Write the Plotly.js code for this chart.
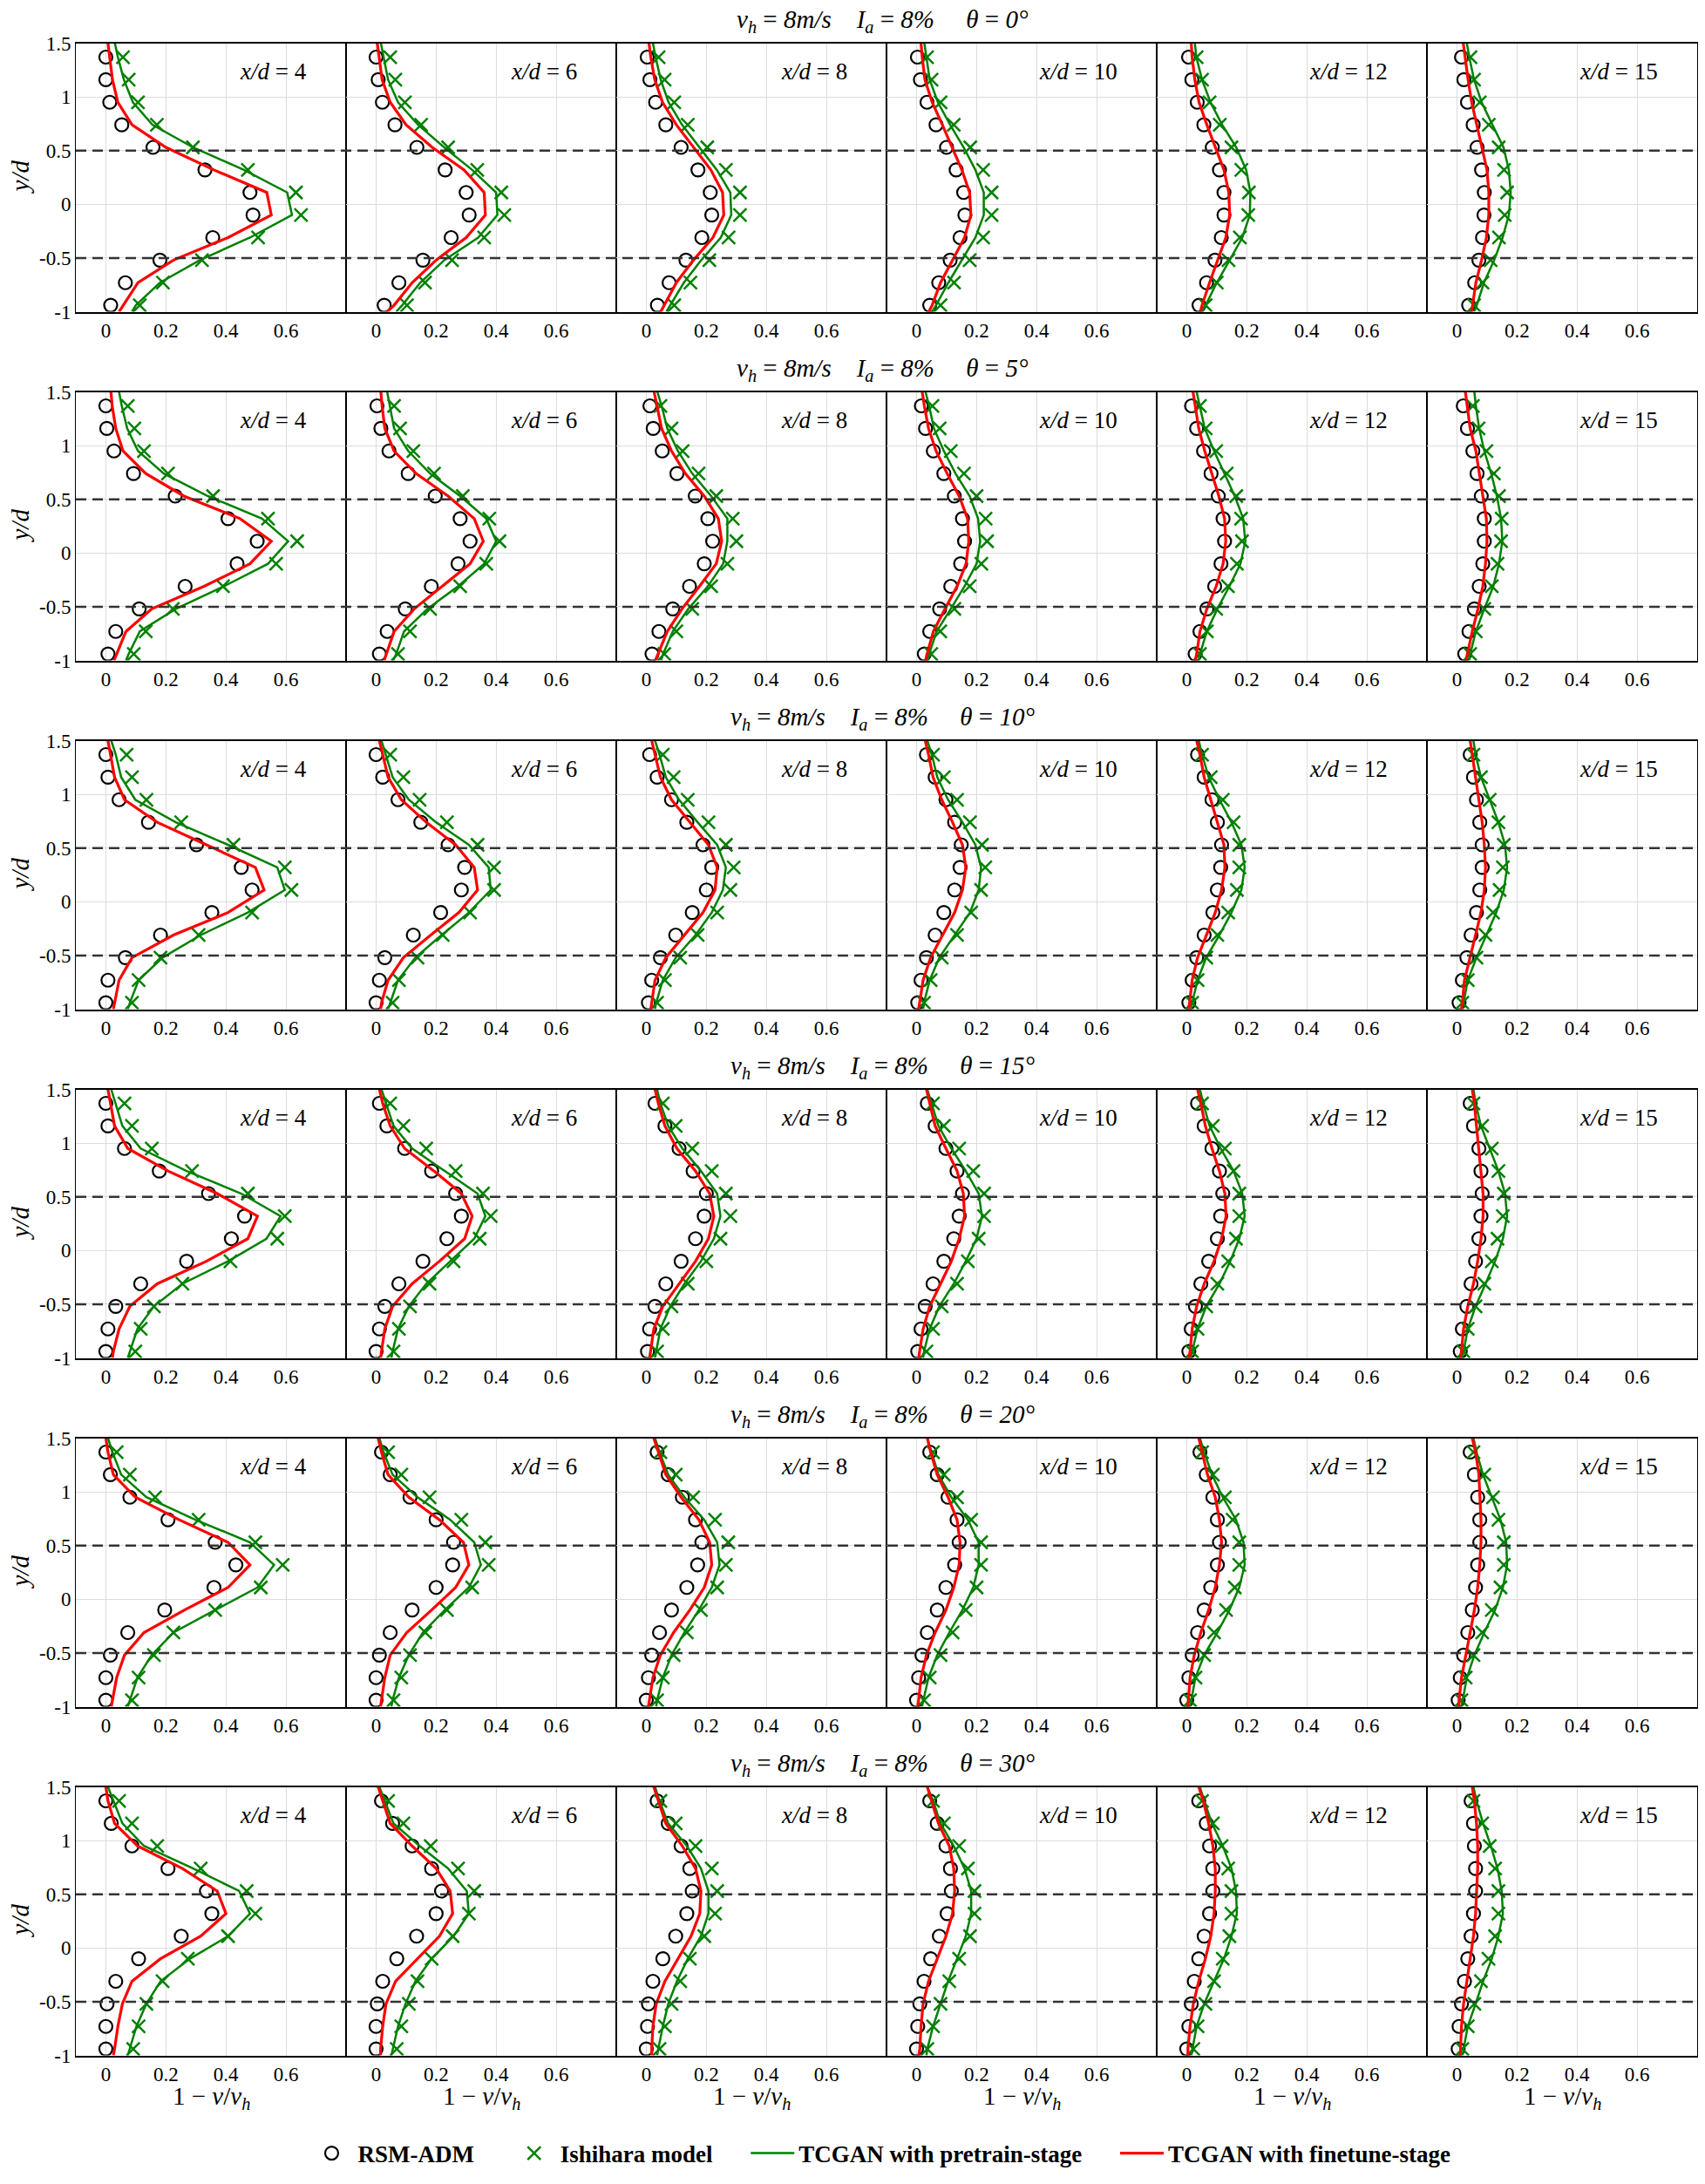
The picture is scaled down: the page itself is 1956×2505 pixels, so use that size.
<!DOCTYPE html>
<html>
<head>
<meta charset="utf-8">
<script src="https://cdn.plot.ly/plotly-3.0.1.min.js"></script>
<style>html,body{margin:0;padding:0;background:#fff;}#chart{width:1956px;height:2505px;}</style>
</head>
<body>
<div id="chart"></div>
<script>
// ---------------- DATA ----------------
const thetas = [0, 5, 10, 15, 20, 30];
const xdValues = [4, 6, 8, 10, 12, 15];
const markerY = [1.37, 1.16, 0.95, 0.74, 0.53, 0.32, 0.11, -0.10, -0.31, -0.52, -0.73, -0.94];
const lineY = [1.5, 1.37, 1.16, 0.95, 0.74, 0.53, 0.32, 0.11, -0.10, -0.31, -0.52, -0.73, -0.94, -1.0];
const xTickVals = [0, 0.2, 0.4, 0.6];
const xTickText = ['0', '0.2', '0.4', '0.6'];
const yTickVals = [-1, -0.5, 0, 0.5, 1, 1.5];
const yTickText = ['-1', '-0.5', '0', '0.5', '1', '1.5'];
const legendNames = ['RSM-ADM', 'Ishihara model', 'TCGAN with pretrain-stage', 'TCGAN with finetune-stage'];

// theta = 0
const rsm_t0 = [
 [0.0, 0.0, 0.013, 0.053, 0.157, 0.33, 0.48, 0.49, 0.356, 0.18, 0.065, 0.016],
 [0.0, 0.007, 0.021, 0.063, 0.136, 0.23, 0.3, 0.31, 0.25, 0.156, 0.076, 0.027],
 [0.003, 0.012, 0.031, 0.065, 0.116, 0.172, 0.213, 0.218, 0.185, 0.132, 0.076, 0.037],
 [0.003, 0.013, 0.035, 0.065, 0.1, 0.132, 0.157, 0.161, 0.145, 0.112, 0.074, 0.044],
 [0.006, 0.017, 0.035, 0.057, 0.085, 0.109, 0.124, 0.124, 0.115, 0.094, 0.066, 0.041],
 [0.015, 0.023, 0.035, 0.054, 0.067, 0.082, 0.091, 0.09, 0.085, 0.073, 0.059, 0.039]];
const ish_t0 = [
 [0.057, 0.076, 0.107, 0.17, 0.29, 0.473, 0.633, 0.65, 0.507, 0.32, 0.19, 0.113],
 [0.047, 0.064, 0.096, 0.15, 0.24, 0.337, 0.417, 0.427, 0.36, 0.253, 0.163, 0.103],
 [0.041, 0.061, 0.093, 0.138, 0.203, 0.265, 0.312, 0.312, 0.274, 0.21, 0.147, 0.093],
 [0.035, 0.05, 0.08, 0.124, 0.179, 0.222, 0.25, 0.25, 0.222, 0.177, 0.125, 0.08],
 [0.033, 0.051, 0.076, 0.11, 0.149, 0.182, 0.207, 0.205, 0.177, 0.139, 0.1, 0.063],
 [0.045, 0.057, 0.076, 0.106, 0.139, 0.157, 0.167, 0.159, 0.14, 0.112, 0.085, 0.057]];
const pre_t0 = [
 [0.03, 0.04, 0.06, 0.09, 0.155, 0.29, 0.46, 0.604, 0.62, 0.48, 0.313, 0.18, 0.1, 0.087],
 [0.016, 0.025, 0.04, 0.073, 0.14, 0.227, 0.32, 0.4, 0.404, 0.34, 0.227, 0.147, 0.087, 0.067],
 [0.022, 0.031, 0.048, 0.074, 0.119, 0.177, 0.235, 0.28, 0.283, 0.248, 0.183, 0.125, 0.08, 0.067],
 [0.026, 0.033, 0.044, 0.071, 0.112, 0.157, 0.196, 0.224, 0.224, 0.196, 0.15, 0.106, 0.065, 0.052],
 [0.027, 0.032, 0.051, 0.079, 0.118, 0.165, 0.198, 0.212, 0.21, 0.185, 0.143, 0.1, 0.063, 0.051],
 [0.033, 0.041, 0.057, 0.082, 0.118, 0.155, 0.173, 0.179, 0.173, 0.152, 0.124, 0.09, 0.066, 0.057]];
const fin_t0 = [
 [0.007, 0.012, 0.022, 0.04, 0.087, 0.2, 0.36, 0.536, 0.551, 0.407, 0.225, 0.107, 0.058, 0.044],
 [0.004, 0.01, 0.02, 0.047, 0.1, 0.187, 0.293, 0.36, 0.364, 0.3, 0.2, 0.12, 0.06, 0.037],
 [0.009, 0.015, 0.028, 0.054, 0.1, 0.157, 0.215, 0.254, 0.258, 0.222, 0.157, 0.1, 0.06, 0.048],
 [0.015, 0.019, 0.028, 0.052, 0.086, 0.119, 0.151, 0.177, 0.181, 0.16, 0.119, 0.08, 0.052, 0.041],
 [0.015, 0.018, 0.027, 0.041, 0.067, 0.096, 0.124, 0.14, 0.143, 0.13, 0.102, 0.076, 0.051, 0.045],
 [0.021, 0.027, 0.037, 0.049, 0.066, 0.085, 0.1, 0.106, 0.106, 0.098, 0.082, 0.063, 0.051, 0.049]];

// theta = 5
const rsm_t5 = [
 [0.0, 0.003, 0.027, 0.092, 0.231, 0.407, 0.504, 0.437, 0.264, 0.111, 0.033, 0.007],
 [0.003, 0.016, 0.043, 0.107, 0.197, 0.28, 0.313, 0.273, 0.184, 0.097, 0.037, 0.011],
 [0.012, 0.023, 0.053, 0.102, 0.163, 0.205, 0.221, 0.193, 0.144, 0.088, 0.042, 0.019],
 [0.016, 0.03, 0.056, 0.091, 0.126, 0.153, 0.16, 0.147, 0.114, 0.077, 0.044, 0.026],
 [0.016, 0.033, 0.056, 0.081, 0.105, 0.121, 0.126, 0.114, 0.093, 0.067, 0.044, 0.028],
 [0.021, 0.035, 0.053, 0.067, 0.081, 0.091, 0.091, 0.086, 0.074, 0.058, 0.04, 0.026]];
const ish_t5 = [
 [0.073, 0.095, 0.127, 0.207, 0.357, 0.54, 0.637, 0.567, 0.39, 0.223, 0.133, 0.093],
 [0.06, 0.08, 0.124, 0.193, 0.289, 0.377, 0.411, 0.367, 0.28, 0.18, 0.113, 0.073],
 [0.047, 0.084, 0.121, 0.174, 0.233, 0.288, 0.3, 0.27, 0.216, 0.153, 0.1, 0.06],
 [0.053, 0.077, 0.114, 0.158, 0.2, 0.23, 0.235, 0.216, 0.177, 0.126, 0.079, 0.049],
 [0.044, 0.063, 0.098, 0.133, 0.165, 0.181, 0.184, 0.167, 0.137, 0.098, 0.067, 0.044],
 [0.053, 0.072, 0.098, 0.123, 0.14, 0.149, 0.147, 0.135, 0.116, 0.091, 0.063, 0.044]];
const pre_t5 = [
 [0.044, 0.053, 0.071, 0.107, 0.193, 0.34, 0.52, 0.607, 0.54, 0.393, 0.233, 0.113, 0.076, 0.067],
 [0.037, 0.045, 0.06, 0.107, 0.18, 0.28, 0.367, 0.4, 0.36, 0.273, 0.171, 0.093, 0.067, 0.057],
 [0.037, 0.051, 0.07, 0.105, 0.153, 0.216, 0.27, 0.27, 0.256, 0.205, 0.14, 0.088, 0.056, 0.049],
 [0.03, 0.042, 0.058, 0.091, 0.13, 0.177, 0.205, 0.212, 0.2, 0.16, 0.114, 0.067, 0.042, 0.037],
 [0.033, 0.044, 0.06, 0.091, 0.126, 0.16, 0.188, 0.195, 0.179, 0.142, 0.102, 0.067, 0.044, 0.04],
 [0.058, 0.063, 0.074, 0.091, 0.114, 0.133, 0.147, 0.151, 0.14, 0.121, 0.091, 0.063, 0.044, 0.04]];
const fin_t5 = [
 [0.017, 0.021, 0.033, 0.057, 0.133, 0.26, 0.447, 0.551, 0.48, 0.327, 0.153, 0.067, 0.036, 0.027],
 [0.016, 0.02, 0.029, 0.06, 0.133, 0.24, 0.327, 0.357, 0.313, 0.22, 0.127, 0.06, 0.033, 0.027],
 [0.026, 0.035, 0.051, 0.084, 0.13, 0.193, 0.24, 0.251, 0.233, 0.177, 0.119, 0.07, 0.037, 0.03],
 [0.019, 0.026, 0.04, 0.065, 0.102, 0.142, 0.17, 0.174, 0.165, 0.135, 0.095, 0.056, 0.035, 0.03],
 [0.021, 0.028, 0.04, 0.06, 0.084, 0.107, 0.126, 0.13, 0.121, 0.098, 0.067, 0.044, 0.033, 0.028],
 [0.028, 0.035, 0.044, 0.063, 0.074, 0.086, 0.098, 0.1, 0.095, 0.086, 0.07, 0.051, 0.035, 0.03]];

// theta = 10
const rsm_t10 = [
 [0.0, 0.007, 0.044, 0.142, 0.302, 0.451, 0.487, 0.353, 0.182, 0.065, 0.007, 0.0],
 [0.0, 0.022, 0.073, 0.149, 0.24, 0.295, 0.284, 0.215, 0.124, 0.029, 0.011, 0.0],
 [0.011, 0.036, 0.084, 0.135, 0.189, 0.218, 0.2, 0.153, 0.098, 0.047, 0.018, 0.007],
 [0.033, 0.062, 0.098, 0.127, 0.149, 0.145, 0.127, 0.091, 0.062, 0.033, 0.015, 0.004],
 [0.036, 0.058, 0.084, 0.102, 0.116, 0.113, 0.102, 0.087, 0.058, 0.033, 0.018, 0.007],
 [0.044, 0.055, 0.065, 0.076, 0.084, 0.084, 0.076, 0.065, 0.047, 0.033, 0.018, 0.007]];
const ish_t10 = [
 [0.069, 0.087, 0.135, 0.251, 0.425, 0.596, 0.618, 0.487, 0.309, 0.182, 0.109, 0.087],
 [0.047, 0.091, 0.145, 0.236, 0.338, 0.393, 0.393, 0.313, 0.222, 0.138, 0.076, 0.055],
 [0.055, 0.091, 0.138, 0.207, 0.265, 0.291, 0.28, 0.236, 0.171, 0.113, 0.062, 0.036],
 [0.055, 0.091, 0.135, 0.178, 0.218, 0.229, 0.215, 0.182, 0.135, 0.084, 0.047, 0.025],
 [0.051, 0.08, 0.12, 0.156, 0.175, 0.175, 0.167, 0.138, 0.102, 0.065, 0.036, 0.018],
 [0.055, 0.08, 0.109, 0.138, 0.156, 0.153, 0.142, 0.12, 0.095, 0.065, 0.036, 0.018]];
const pre_t10 = [
 [0.018, 0.033, 0.051, 0.098, 0.233, 0.407, 0.571, 0.596, 0.473, 0.316, 0.189, 0.109, 0.08, 0.073],
 [0.018, 0.033, 0.055, 0.109, 0.2, 0.309, 0.375, 0.382, 0.309, 0.218, 0.131, 0.073, 0.047, 0.04],
 [0.029, 0.044, 0.065, 0.109, 0.171, 0.236, 0.265, 0.255, 0.218, 0.164, 0.098, 0.055, 0.033, 0.029],
 [0.036, 0.051, 0.069, 0.105, 0.153, 0.196, 0.215, 0.207, 0.178, 0.127, 0.076, 0.044, 0.025, 0.022],
 [0.04, 0.051, 0.073, 0.109, 0.149, 0.182, 0.193, 0.182, 0.149, 0.109, 0.065, 0.036, 0.018, 0.015],
 [0.055, 0.062, 0.08, 0.109, 0.138, 0.16, 0.167, 0.156, 0.131, 0.098, 0.065, 0.036, 0.022, 0.018]];
const fin_t10 = [
 [0.007, 0.015, 0.029, 0.062, 0.171, 0.335, 0.498, 0.527, 0.407, 0.225, 0.087, 0.044, 0.029, 0.025],
 [0.011, 0.022, 0.04, 0.084, 0.167, 0.265, 0.327, 0.338, 0.276, 0.182, 0.091, 0.04, 0.018, 0.015],
 [0.018, 0.029, 0.047, 0.084, 0.145, 0.207, 0.236, 0.229, 0.189, 0.127, 0.065, 0.029, 0.018, 0.015],
 [0.029, 0.04, 0.055, 0.084, 0.12, 0.153, 0.164, 0.153, 0.127, 0.087, 0.047, 0.022, 0.011, 0.007],
 [0.033, 0.044, 0.058, 0.08, 0.102, 0.124, 0.127, 0.116, 0.095, 0.065, 0.036, 0.018, 0.011, 0.007],
 [0.044, 0.051, 0.062, 0.073, 0.084, 0.091, 0.095, 0.091, 0.08, 0.062, 0.044, 0.025, 0.018, 0.015]];

// theta = 15
const rsm_t15 = [
 [0.0, 0.007, 0.062, 0.178, 0.342, 0.462, 0.418, 0.269, 0.116, 0.033, 0.007, 0.0],
 [0.011, 0.036, 0.095, 0.185, 0.265, 0.284, 0.236, 0.156, 0.076, 0.029, 0.011, 0.0],
 [0.029, 0.062, 0.109, 0.156, 0.2, 0.193, 0.164, 0.116, 0.065, 0.029, 0.011, 0.004],
 [0.036, 0.062, 0.098, 0.135, 0.153, 0.142, 0.124, 0.091, 0.055, 0.029, 0.015, 0.004],
 [0.036, 0.058, 0.084, 0.109, 0.12, 0.113, 0.102, 0.073, 0.047, 0.029, 0.015, 0.007],
 [0.044, 0.055, 0.073, 0.08, 0.084, 0.08, 0.073, 0.062, 0.047, 0.033, 0.018, 0.011]];
const ish_t15 = [
 [0.062, 0.087, 0.153, 0.287, 0.473, 0.596, 0.571, 0.415, 0.255, 0.16, 0.116, 0.098],
 [0.047, 0.091, 0.167, 0.265, 0.356, 0.382, 0.345, 0.258, 0.178, 0.113, 0.076, 0.058],
 [0.055, 0.098, 0.153, 0.218, 0.265, 0.28, 0.247, 0.2, 0.138, 0.084, 0.055, 0.036],
 [0.055, 0.091, 0.142, 0.189, 0.225, 0.225, 0.207, 0.171, 0.135, 0.084, 0.055, 0.033],
 [0.051, 0.087, 0.127, 0.156, 0.175, 0.175, 0.164, 0.138, 0.102, 0.065, 0.036, 0.018],
 [0.055, 0.084, 0.116, 0.138, 0.156, 0.153, 0.135, 0.116, 0.091, 0.062, 0.036, 0.022]];
const pre_t15 = [
 [0.018, 0.033, 0.055, 0.116, 0.269, 0.451, 0.582, 0.535, 0.407, 0.255, 0.16, 0.105, 0.08, 0.073],
 [0.018, 0.033, 0.058, 0.12, 0.229, 0.338, 0.364, 0.327, 0.247, 0.167, 0.109, 0.073, 0.055, 0.051],
 [0.036, 0.047, 0.073, 0.12, 0.182, 0.236, 0.247, 0.225, 0.182, 0.127, 0.08, 0.047, 0.033, 0.029],
 [0.036, 0.051, 0.073, 0.116, 0.164, 0.207, 0.218, 0.2, 0.164, 0.124, 0.076, 0.044, 0.025, 0.022],
 [0.044, 0.055, 0.076, 0.113, 0.156, 0.185, 0.193, 0.175, 0.145, 0.109, 0.065, 0.036, 0.018, 0.015],
 [0.055, 0.062, 0.08, 0.109, 0.138, 0.16, 0.167, 0.153, 0.127, 0.095, 0.062, 0.036, 0.022, 0.018]];
const fin_t15 = [
 [0.007, 0.015, 0.029, 0.073, 0.207, 0.371, 0.505, 0.473, 0.335, 0.171, 0.08, 0.044, 0.025, 0.022],
 [0.011, 0.022, 0.047, 0.095, 0.193, 0.284, 0.32, 0.295, 0.211, 0.12, 0.055, 0.029, 0.018, 0.015],
 [0.029, 0.04, 0.062, 0.102, 0.164, 0.211, 0.225, 0.207, 0.164, 0.109, 0.055, 0.025, 0.015, 0.011],
 [0.033, 0.044, 0.062, 0.098, 0.135, 0.156, 0.16, 0.142, 0.116, 0.08, 0.044, 0.022, 0.011, 0.007],
 [0.036, 0.047, 0.062, 0.084, 0.109, 0.127, 0.131, 0.116, 0.091, 0.058, 0.033, 0.018, 0.011, 0.007],
 [0.051, 0.058, 0.065, 0.073, 0.08, 0.087, 0.087, 0.08, 0.069, 0.055, 0.036, 0.022, 0.015, 0.011]];

// theta = 20
const rsm_t20 = [
 [0.0, 0.015, 0.08, 0.207, 0.364, 0.433, 0.36, 0.196, 0.073, 0.015, 0.0, 0.0],
 [0.018, 0.047, 0.113, 0.2, 0.258, 0.255, 0.2, 0.12, 0.047, 0.011, 0.0, 0.0],
 [0.036, 0.073, 0.12, 0.164, 0.185, 0.171, 0.135, 0.084, 0.044, 0.018, 0.007, 0.0],
 [0.044, 0.069, 0.105, 0.135, 0.142, 0.127, 0.098, 0.069, 0.036, 0.018, 0.007, 0.0],
 [0.044, 0.065, 0.087, 0.102, 0.109, 0.102, 0.08, 0.058, 0.036, 0.018, 0.007, 0.0],
 [0.044, 0.058, 0.069, 0.076, 0.076, 0.069, 0.062, 0.051, 0.036, 0.022, 0.011, 0.004]];
const ish_t20 = [
 [0.036, 0.08, 0.164, 0.309, 0.498, 0.589, 0.516, 0.364, 0.225, 0.16, 0.109, 0.087],
 [0.04, 0.084, 0.178, 0.284, 0.364, 0.375, 0.32, 0.236, 0.164, 0.113, 0.084, 0.058],
 [0.047, 0.098, 0.156, 0.229, 0.273, 0.265, 0.236, 0.182, 0.135, 0.091, 0.055, 0.036],
 [0.055, 0.091, 0.135, 0.182, 0.215, 0.215, 0.2, 0.164, 0.12, 0.08, 0.044, 0.025],
 [0.051, 0.087, 0.127, 0.153, 0.175, 0.175, 0.16, 0.131, 0.091, 0.058, 0.029, 0.011],
 [0.055, 0.091, 0.12, 0.138, 0.156, 0.156, 0.145, 0.116, 0.084, 0.055, 0.029, 0.015]];
const pre_t20 = [
 [0.007, 0.022, 0.051, 0.135, 0.298, 0.48, 0.56, 0.505, 0.364, 0.225, 0.153, 0.105, 0.08, 0.073],
 [0.011, 0.025, 0.055, 0.138, 0.247, 0.327, 0.349, 0.309, 0.229, 0.156, 0.109, 0.076, 0.055, 0.051],
 [0.029, 0.044, 0.073, 0.127, 0.193, 0.236, 0.244, 0.218, 0.175, 0.127, 0.084, 0.055, 0.036, 0.033],
 [0.036, 0.051, 0.073, 0.116, 0.171, 0.207, 0.207, 0.189, 0.153, 0.109, 0.069, 0.04, 0.022, 0.018],
 [0.044, 0.058, 0.084, 0.12, 0.164, 0.189, 0.193, 0.175, 0.142, 0.102, 0.058, 0.029, 0.015, 0.011],
 [0.055, 0.065, 0.087, 0.116, 0.145, 0.164, 0.167, 0.153, 0.127, 0.091, 0.058, 0.033, 0.018, 0.015]];
const fin_t20 = [
 [0.0, 0.007, 0.025, 0.098, 0.244, 0.407, 0.48, 0.407, 0.262, 0.127, 0.062, 0.036, 0.022, 0.018],
 [0.007, 0.018, 0.04, 0.109, 0.211, 0.291, 0.309, 0.265, 0.185, 0.102, 0.047, 0.029, 0.018, 0.015],
 [0.025, 0.04, 0.065, 0.116, 0.175, 0.211, 0.218, 0.193, 0.145, 0.091, 0.047, 0.022, 0.011, 0.007],
 [0.036, 0.047, 0.069, 0.105, 0.135, 0.145, 0.142, 0.124, 0.098, 0.062, 0.033, 0.015, 0.007, 0.004],
 [0.04, 0.051, 0.069, 0.095, 0.109, 0.116, 0.109, 0.095, 0.073, 0.047, 0.025, 0.011, 0.004, 0.004],
 [0.051, 0.062, 0.073, 0.076, 0.08, 0.08, 0.076, 0.069, 0.058, 0.044, 0.029, 0.015, 0.007, 0.007]];

// theta = 30
const rsm_t30 = [
 [0.0, 0.018, 0.087, 0.207, 0.335, 0.353, 0.251, 0.109, 0.033, 0.004, 0.0, 0.0],
 [0.018, 0.055, 0.12, 0.185, 0.218, 0.2, 0.135, 0.069, 0.022, 0.004, 0.0, 0.0],
 [0.036, 0.073, 0.116, 0.145, 0.153, 0.135, 0.098, 0.055, 0.022, 0.007, 0.004, 0.0],
 [0.044, 0.069, 0.098, 0.113, 0.116, 0.102, 0.076, 0.047, 0.025, 0.011, 0.004, 0.0],
 [0.04, 0.065, 0.076, 0.087, 0.087, 0.076, 0.058, 0.04, 0.025, 0.015, 0.007, 0.0],
 [0.047, 0.055, 0.058, 0.062, 0.062, 0.055, 0.047, 0.036, 0.025, 0.015, 0.007, 0.004]];
const ish_t30 = [
 [0.044, 0.087, 0.171, 0.316, 0.469, 0.498, 0.407, 0.273, 0.189, 0.135, 0.109, 0.091],
 [0.04, 0.091, 0.182, 0.273, 0.327, 0.309, 0.255, 0.185, 0.138, 0.109, 0.084, 0.069],
 [0.047, 0.098, 0.164, 0.218, 0.236, 0.229, 0.193, 0.145, 0.113, 0.084, 0.062, 0.044],
 [0.055, 0.091, 0.142, 0.171, 0.193, 0.193, 0.178, 0.142, 0.109, 0.08, 0.055, 0.036],
 [0.051, 0.087, 0.116, 0.138, 0.149, 0.149, 0.142, 0.12, 0.091, 0.062, 0.036, 0.022],
 [0.055, 0.084, 0.109, 0.127, 0.138, 0.138, 0.127, 0.105, 0.08, 0.058, 0.036, 0.018]];
const pre_t30 = [
 [0.007, 0.025, 0.055, 0.127, 0.291, 0.444, 0.48, 0.407, 0.28, 0.182, 0.135, 0.102, 0.08, 0.073],
 [0.011, 0.029, 0.058, 0.145, 0.24, 0.302, 0.309, 0.258, 0.185, 0.131, 0.098, 0.073, 0.055, 0.051],
 [0.029, 0.044, 0.073, 0.135, 0.182, 0.207, 0.207, 0.182, 0.138, 0.102, 0.073, 0.055, 0.04, 0.036],
 [0.036, 0.055, 0.08, 0.124, 0.16, 0.182, 0.182, 0.164, 0.135, 0.105, 0.08, 0.055, 0.036, 0.033],
 [0.044, 0.058, 0.084, 0.12, 0.149, 0.164, 0.167, 0.149, 0.124, 0.091, 0.058, 0.033, 0.018, 0.015],
 [0.055, 0.065, 0.087, 0.113, 0.135, 0.149, 0.153, 0.138, 0.116, 0.087, 0.062, 0.036, 0.022, 0.018]];
const fin_t30 = [
 [0.0, 0.007, 0.029, 0.105, 0.255, 0.371, 0.4, 0.316, 0.182, 0.087, 0.055, 0.04, 0.029, 0.025],
 [0.007, 0.022, 0.047, 0.12, 0.2, 0.247, 0.255, 0.211, 0.138, 0.065, 0.033, 0.022, 0.015, 0.015],
 [0.025, 0.04, 0.065, 0.12, 0.164, 0.182, 0.178, 0.149, 0.105, 0.062, 0.033, 0.022, 0.018, 0.018],
 [0.036, 0.051, 0.073, 0.109, 0.124, 0.127, 0.12, 0.098, 0.069, 0.04, 0.022, 0.015, 0.011, 0.007],
 [0.04, 0.055, 0.073, 0.087, 0.095, 0.095, 0.091, 0.08, 0.062, 0.04, 0.022, 0.011, 0.004, 0.004],
 [0.051, 0.058, 0.065, 0.069, 0.069, 0.065, 0.062, 0.055, 0.044, 0.033, 0.022, 0.015, 0.011, 0.011]];

const rsmRows = [rsm_t0, rsm_t5, rsm_t10, rsm_t15, rsm_t20, rsm_t30];
const ishRows = [ish_t0, ish_t5, ish_t10, ish_t15, ish_t20, ish_t30];
const preRows = [pre_t0, pre_t5, pre_t10, pre_t15, pre_t20, pre_t30];
const finRows = [fin_t0, fin_t5, fin_t10, fin_t15, fin_t20, fin_t30];

// ---------------- LAYOUT ----------------
const W = 1956, H = 2505;
const LEFT = 87, PW = 310, TOP = 49.5, PH = 308, PITCH = 400;
const FONT = '"Liberation Serif", "Times New Roman", serif';
const GREEN = '#008000', RED = '#ff0000';
const px = v => v / W;
const py = v => 1 - v / H;
const pad = '&nbsp;&nbsp;&nbsp;&nbsp;&nbsp;';

const traces = [];
const layout = {
  width: W, height: H,
  margin: {l: 0, r: 0, t: 0, b: 0},
  paper_bgcolor: '#ffffff', plot_bgcolor: '#ffffff',
  font: {family: FONT, size: 23, color: '#000'},
  showlegend: true,
  legend: {
    orientation: 'h', x: px(1010), xanchor: 'center', y: py(2470), yanchor: 'middle',
    font: {family: FONT, size: 27, color: '#000'}, itemwidth: 50, bgcolor: 'rgba(0,0,0,0)'
  },
  annotations: [], shapes: []
};

for (let r = 0; r < 6; r++) {
  for (let c = 0; c < 6; c++) {
    const i = r * 6 + c + 1;
    const xa = 'x' + i, ya = 'y' + i;
    const x0 = LEFT + c * PW, y0 = TOP + r * PITCH;
    layout['xaxis' + i] = {
      domain: [px(x0), px(x0 + PW)], anchor: ya, range: [-0.1, 0.8],
      tickvals: xTickVals, ticktext: xTickText, ticks: '',
      showgrid: true, gridcolor: '#dcdcdc', gridwidth: 1, zeroline: false,
      showline: true, mirror: true, linecolor: '#000', linewidth: 2,
      tickfont: {family: FONT, size: 23, color: '#000'}, fixedrange: true
    };
    layout['yaxis' + i] = {
      domain: [py(y0 + PH), py(y0)], anchor: xa, range: [-1, 1.5],
      tickvals: yTickVals, ticktext: yTickText, ticks: '', showticklabels: c === 0,
      showgrid: true, gridcolor: '#dcdcdc', gridwidth: 1, zeroline: false,
      showline: true, mirror: true, linecolor: '#000', linewidth: 1,
      tickfont: {family: FONT, size: 23, color: '#000'}, fixedrange: true
    };
    const first = (i === 1);
    traces.push({
      type: 'scatter', mode: 'markers', x: rsmRows[r][c], y: markerY, xaxis: xa, yaxis: ya,
      name: '<b>' + legendNames[0] + '</b>' + pad, showlegend: first,
      marker: {symbol: 'circle-open', size: 15, color: '#000', line: {width: 2.2, color: '#000'}}
    });
    traces.push({
      type: 'scatter', mode: 'markers', x: ishRows[r][c], y: markerY, xaxis: xa, yaxis: ya,
      name: '<b>' + legendNames[1] + '</b>' + pad, showlegend: first,
      marker: {symbol: 'x-thin-open', size: 15, color: GREEN, line: {width: 2.5, color: GREEN}}
    });
    traces.push({
      type: 'scatter', mode: 'lines', x: preRows[r][c], y: lineY, xaxis: xa, yaxis: ya,
      name: '<b>' + legendNames[2] + '</b>' + pad, showlegend: first,
      line: {color: GREEN, width: 2.5}
    });
    traces.push({
      type: 'scatter', mode: 'lines', x: finRows[r][c], y: lineY, xaxis: xa, yaxis: ya,
      name: '<b>' + legendNames[3] + '</b>', showlegend: first,
      line: {color: RED, width: 3.2}
    });
    layout.annotations.push({
      xref: xa, yref: ya, x: 0.675, y: 1.24, xanchor: 'right', yanchor: 'middle',
      text: '<i>x/d</i> = ' + xdValues[c], showarrow: false,
      font: {family: FONT, size: 27, color: '#000'}
    });
    if (r === 5) {
      layout.annotations.push({
        xref: 'paper', yref: 'paper', x: px(x0 + PW / 2), y: py(2406), xanchor: 'center', yanchor: 'middle',
        text: '1 \u2212 <i>v</i>/<i>v</i><sub><i>h</i></sub>', showarrow: false,
        font: {family: FONT, size: 29, color: '#000'}
      });
    }
  }
  // row title
  layout.annotations.push({
    xref: 'paper', yref: 'paper', x: px(1012), y: py(24 + r * PITCH), xanchor: 'center', yanchor: 'middle',
    text: '<i>v</i><sub><i>h</i></sub> = <i>8m/s</i>&nbsp;&nbsp;&nbsp;&nbsp;<i>I</i><sub><i>a</i></sub> = <i>8%</i>&nbsp;&nbsp;&nbsp;&nbsp;&nbsp;<i>\u03b8</i> = <i>' + thetas[r] + '\u00b0</i>',
    showarrow: false, font: {family: FONT, size: 29, color: '#000'}
  });
  // y title
  layout.annotations.push({
    xref: 'paper', yref: 'paper', x: px(22), y: py(TOP + r * PITCH + PH / 2), xanchor: 'center', yanchor: 'middle',
    text: '<i>y/d</i>', textangle: -90, showarrow: false, font: {family: FONT, size: 29, color: '#000'}
  });
  // dashed lines at +/-0.5
  [0.5, -0.5].forEach(v => {
    layout.shapes.push({
      type: 'line', xref: 'paper', yref: 'y' + (r * 6 + 1), x0: px(LEFT), x1: px(LEFT + 6 * PW), y0: v, y1: v,
      line: {color: '#333333', width: 2.5, dash: '12px,7px'}, layer: 'above'
    });
  });
}

Plotly.newPlot('chart', traces, layout, {staticPlot: true, displayModeBar: false});
</script>
</body>
</html>
